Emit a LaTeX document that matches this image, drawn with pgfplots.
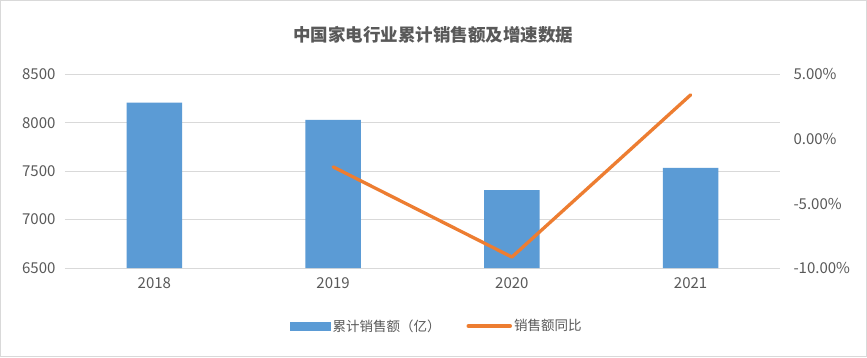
\documentclass[border=0pt]{standalone}
\usepackage{pgfplots}
\pgfplotsset{compat=1.18}
\usepackage{fontspec}
\setmainfont{Noto Sans CJK SC}
\definecolor{barblue}{HTML}{5B9BD5}
\definecolor{lineorange}{HTML}{ED7D31}
\definecolor{txtgray}{HTML}{595959}
\definecolor{gridgray}{HTML}{D9D9D9}
\begin{document}
\begin{tikzpicture}[x=1pt,y=1pt]
\fill[white] (0,0) rectangle (867,357);
\node[font=\fontsize{17.5}{20}\selectfont\bfseries, text=txtgray] at (433,322) {中国家电行业累计销售额及增速数据};
\begin{axis}[
  at={(65pt,89pt)}, anchor=south west,
  scale only axis, width=715pt, height=193.5pt,
  xmin=-0.5, xmax=3.5, ymin=6500, ymax=8500,
  xtick={0,1,2,3}, xticklabels={2018,2019,2020,2021},
  ytick={6500,7000,7500,8000,8500},
  ymajorgrids, grid style={gridgray, line width=1pt},
  axis line style={draw=none},
  axis x line*=bottom,
  x axis line style={gridgray, line width=1pt},
  major tick length=0pt,
  tick label style={font=\fontsize{15}{17}\selectfont, text=txtgray},
  /pgf/number format/assume math mode=true,
  /pgf/number format/1000 sep={},
  yticklabel style={xshift=-6pt},
  xticklabel style={yshift=-6pt},
]
\addplot[ybar, bar width=0.31, fill=barblue, draw=none] coordinates {
  (0,8210) (1,8032) (2,7305) (3,7536)
};
\end{axis}
\begin{axis}[
  at={(65pt,89pt)}, anchor=south west,
  scale only axis, width=715pt, height=193.5pt,
  xmin=-0.5, xmax=3.5, ymin=-10, ymax=5,
  axis y line*=right, axis x line=none,
  axis line style={draw=none},
  ytick={-10,-5,0,5},
  yticklabels={-10.00\%,-5.00\%,0.00\%,5.00\%},
  major tick length=0pt,
  tick label style={font=\fontsize{15}{17}\selectfont, text=txtgray},
  yticklabel style={xshift=10pt},
  legend style={at={(0.52,-0.30)}, anchor=center, draw=none, fill=none,
    legend columns=2, font=\fontsize{13.5}{16}\selectfont, text=txtgray,
    /tikz/every even column/.append style={column sep=24pt}},
]
\addlegendimage{legend image code/.code={\fill[barblue] (0pt,-4pt) rectangle (40pt,4pt);}}
\addlegendentry{累计销售额（亿）}
\addplot[lineorange, line width=3.3pt, line cap=round, line join=round,
  legend image code/.code={\draw[lineorange, line width=3.5pt, line cap=round] (0pt,0pt) -- (42pt,0pt);}]
  coordinates {(1,-2.16) (2,-9.15) (3,3.42)};
\addlegendentry{销售额同比}
\end{axis}
\pgfresetboundingbox
\draw[gridgray, line width=1pt] (0.5,0.5) rectangle (866.5,356.5);
\useasboundingbox (0,0) rectangle (867,357);
\end{tikzpicture}
\end{document}
